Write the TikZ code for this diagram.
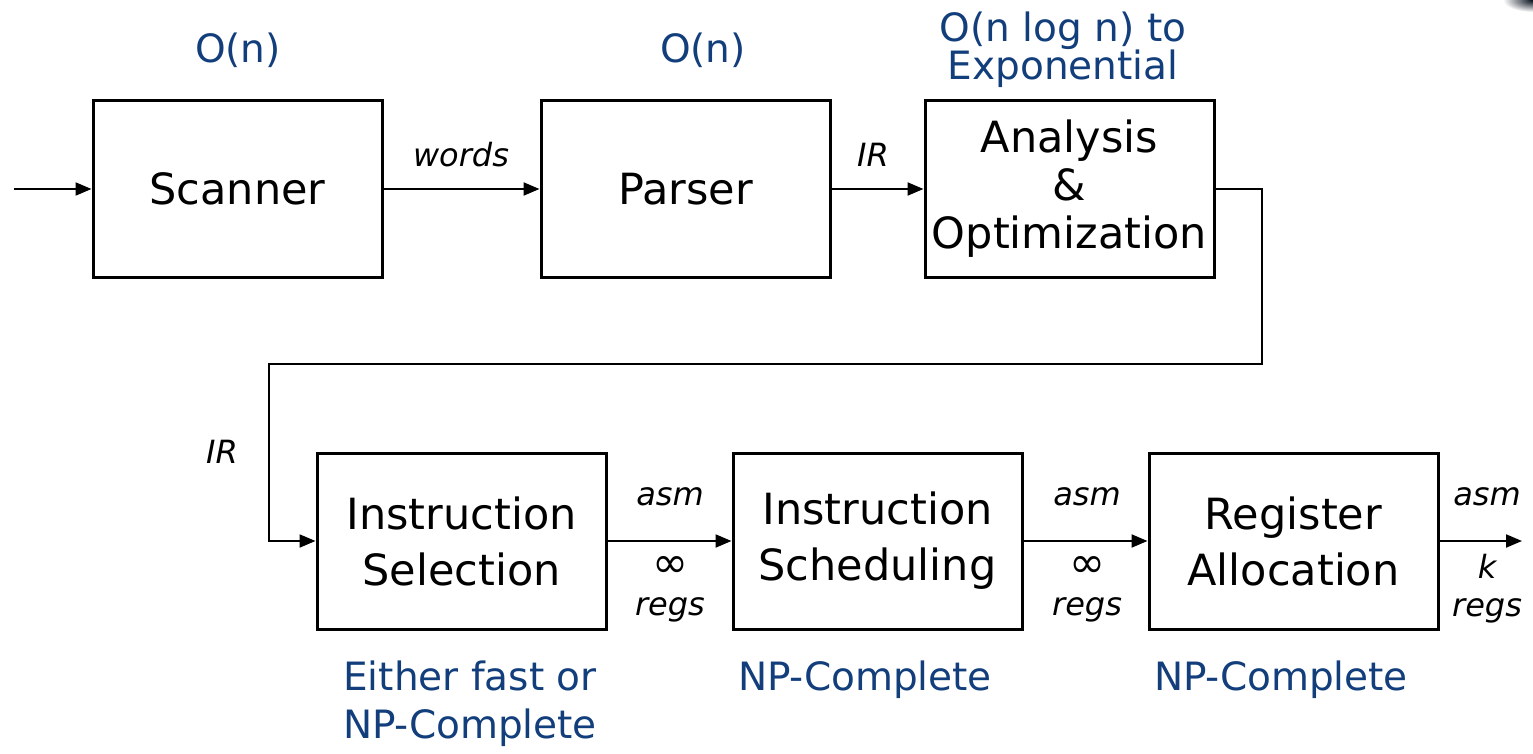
\documentclass[tikz,border=0pt]{standalone}
\usepackage{fontspec}
\setmainfont{DejaVu Sans}
\usetikzlibrary{arrows.meta}
\definecolor{navy}{HTML}{123E7C}
\newcommand{\myinf}{\scalebox{1.35}{∞}}
\begin{document}
\begin{tikzpicture}[x=1pt,y=-1pt,
  stage/.style={draw,line width=3pt,minimum width=289pt,minimum height=176pt,inner sep=0pt,align=center,font=\fontsize{43}{48}\selectfont},
  conn/.style={line width=2pt,-{Triangle[length=16pt,width=13pt]}},
  cplx/.style={text=navy,align=center,font=\fontsize{39}{38}\selectfont},
  lab/.style={font=\fontsize{32}{36}\selectfont\itshape,align=center}]
\useasboundingbox (0,0) rectangle (1533,754);
\node[stage] (scan) at (237.5,189) {Scanner};
\node[stage] (pars) at (685.5,189) {Parser};
\node[stage] (anal) at (1069.5,189) {Analysis\\\&\\Optimization};
\node[stage,font=\fontsize{43}{56}\selectfont] (isel) at (461.5,541) {Instruction\\Selection};
\node[stage,font=\fontsize{43}{56}\selectfont] (isch) at (877.5,541) {Instruction\\Scheduling};
\node[stage,font=\fontsize{43}{56}\selectfont] (ralloc) at (1293.5,541) {Register\\Allocation};
\coordinate (in) at (14,189);
\coordinate (out) at (1522,541);
\coordinate (c1) at (1262,189);
\coordinate (c2) at (1262,364);
\coordinate (c3) at (269,364);
\coordinate (c4) at (269,541);
\draw[conn] (in) -- (scan);
\draw[conn] (scan) -- (pars);
\draw[conn] (pars) -- (anal);
\draw[conn] (anal.east) -- (c1) -- (c2) -- (c3) -- (c4) -- (isel.west);
\draw[conn] (isel) -- (isch);
\draw[conn] (isch) -- (ralloc);
\draw[conn] (ralloc) -- (out);
\node[lab] (lw) at (461,155) {words};
\node[lab] (lir1) at (873,155) {IR};
\node[lab] (lir2) at (222,452) {IR};
\node[lab] (la1) at (670,497) {asm};
\node[lab,font=\fontsize{32}{38}\selectfont\itshape] (lr1) at (670,589) {\myinf\\regs};
\node[lab] (la2) at (1087,497) {asm};
\node[lab,font=\fontsize{32}{38}\selectfont\itshape] (lr2) at (1087,589) {\myinf\\regs};
\node[lab] (la3) at (1487,497) {asm};
\node[lab,font=\fontsize{32}{38}\selectfont\itshape] (lr3) at (1487,589) {k\\regs};
\node[cplx] (o1) at (238,50) {O(n)};
\node[cplx] (o2) at (703,50) {O(n)};
\node[cplx] (o3) at (1063,50) {O(n log n) to\\Exponential};
\node[cplx,font=\fontsize{39}{48}\selectfont] (o4) at (470,704) {Either fast or\\NP-Complete};
\node[cplx] (o5) at (865,680) {NP-Complete};
\node[cplx] (o6) at (1281,680) {NP-Complete};
\begin{scope}
\clip (1380,0) rectangle (1533,40);
\shade[inner color=black!80!navy,outer color=white] (1533,0) ellipse (30pt and 12pt);
\end{scope}
\end{tikzpicture}
\end{document}
